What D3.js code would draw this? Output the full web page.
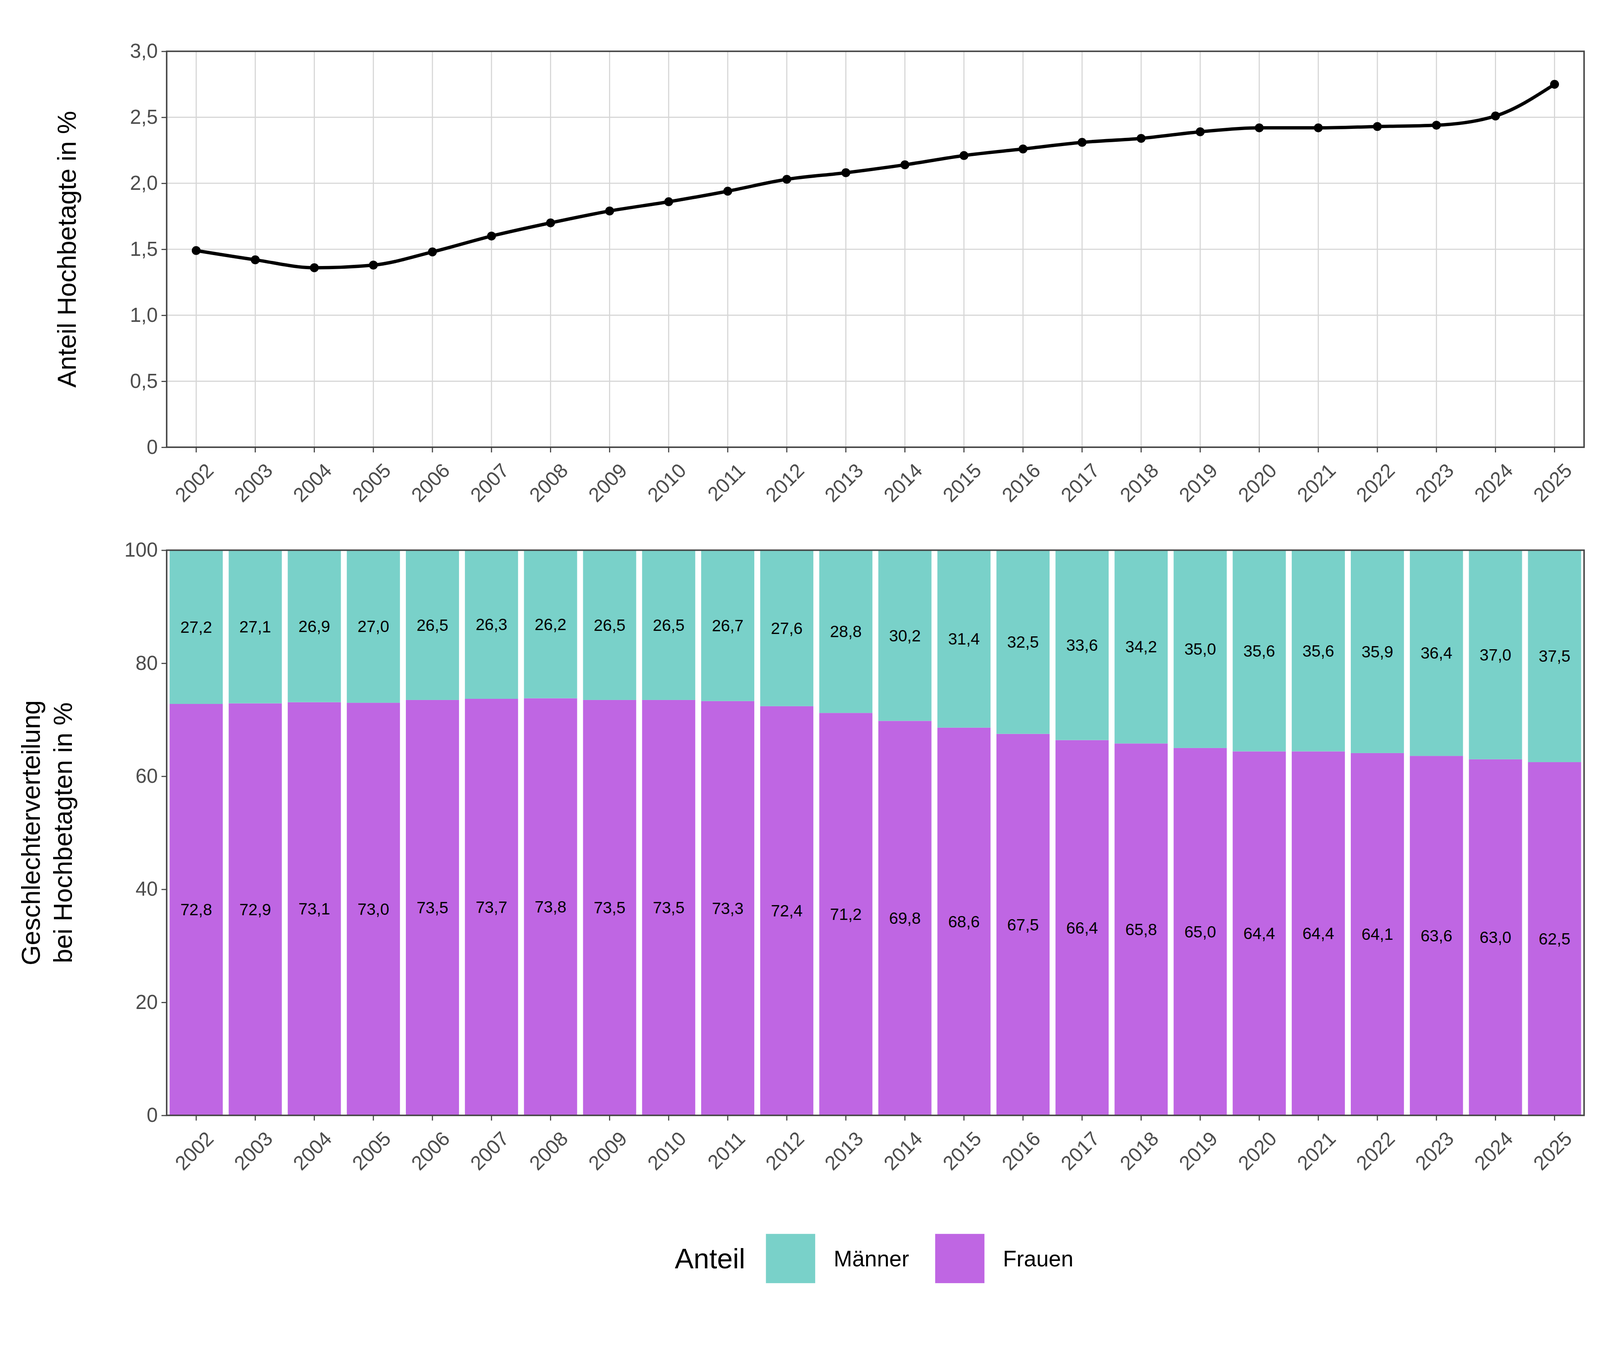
<!DOCTYPE html>
<html><head><meta charset="utf-8">
<script src="https://cdn.jsdelivr.net/npm/d3@7"></script>
<style>html,body{margin:0;padding:0;background:#fff;overflow:hidden}svg{display:block;font-family:"Liberation Sans",Arial,sans-serif}</style>
</head><body><svg id="c" viewBox="0 0 4320 3456" preserveAspectRatio="xMidYMid meet" style="width:100vw;height:100vh"></svg>
<script>
const years=[2002,2003,2004,2005,2006,2007,2008,2009,2010,2011,2012,2013,2014,2015,2016,2017,2018,2019,2020,2021,2022,2023,2024,2025];
const anteil=[1.49,1.42,1.36,1.38,1.48,1.60,1.70,1.79,1.86,1.94,2.03,2.08,2.14,2.21,2.26,2.31,2.34,2.39,2.42,2.42,2.43,2.44,2.51,2.75];
const maenner=[27.2,27.1,26.9,27.0,26.5,26.3,26.2,26.5,26.5,26.7,27.6,28.8,30.2,31.4,32.5,33.6,34.2,35.0,35.6,35.6,35.9,36.4,37.0,37.5];
const frauen=[72.8,72.9,73.1,73.0,73.5,73.7,73.8,73.5,73.5,73.3,72.4,71.2,69.8,68.6,67.5,66.4,65.8,65.0,64.4,64.4,64.1,63.6,63.0,62.5];
const topTicks=[0,0.5,1,1.5,2,2.5,3];
const botTicks=[0,20,40,60,80,100];
const seriesNames=["Männer","Frauen"];
const colors={"Männer":"#79D1C9","Frauen":"#BF66E3"};

const svg=d3.select("#c");
const L=450,R=4277;
const fmt=v=>d3.format(".1f")(v).replace(".",",");
const x=d3.scaleBand().domain(years).range([L,R]).paddingInner(0.1).paddingOuter(0.05);
const xc=d=>x(d)+x.bandwidth()/2;

function xAxis(yb){
  const g=svg.append("g").attr("transform",`translate(0,${yb})`).call(d3.axisBottom(x).tickSize(14).tickPadding(10));
  g.select(".domain").remove();
  g.selectAll(".tick line").attr("stroke","#444").attr("stroke-width",3);
  g.selectAll(".tick text").attr("font-size",54).attr("fill","#4d4d4d").attr("text-anchor","end")
   .attr("dy","0.35em").attr("transform","translate(20,36) rotate(-45)");
}
function yAxis(y,ticks,f){
  const g=svg.append("g").attr("transform",`translate(${L},0)`).call(d3.axisLeft(y).tickValues(ticks).tickFormat(f).tickSize(14).tickPadding(10));
  g.select(".domain").remove();
  g.selectAll(".tick line").attr("stroke","#444").attr("stroke-width",3);
  g.selectAll(".tick text").attr("font-size",54).attr("fill","#4d4d4d");
}

// Top panel
const T0=44,T1=1113;
const y1=d3.scaleLinear().domain([0,3]).range([T1,T0]);
const grid=svg.append("g");
topTicks.forEach(t=>grid.append("line").attr("x1",L).attr("x2",R).attr("y1",y1(t)).attr("y2",y1(t)).attr("stroke","#d6d6d6").attr("stroke-width",3));
years.forEach(yr=>grid.append("line").attr("x1",xc(yr)).attr("x2",xc(yr)).attr("y1",T0).attr("y2",T1).attr("stroke","#d6d6d6").attr("stroke-width",3));
svg.append("path").datum(years.map((yr,i)=>[xc(yr),y1(anteil[i])]))
  .attr("d",d3.line().curve(d3.curveMonotoneX)).attr("fill","none").attr("stroke","#000").attr("stroke-width",9);
svg.selectAll(".pt").data(years).enter().append("circle").attr("cx",d=>xc(d)).attr("cy",(d,i)=>y1(anteil[i])).attr("r",12).attr("fill","#000");
svg.append("rect").attr("x",L).attr("y",T0).attr("width",R-L).attr("height",T1-T0).attr("fill","none").attr("stroke","#444").attr("stroke-width",4);
yAxis(y1,topTicks,d=>d===0?"0":fmt(d));
xAxis(T1);
svg.append("text").attr("transform",`translate(205,${(T0+T1)/2}) rotate(-90)`).attr("text-anchor","middle").attr("font-size",70).text("Anteil Hochbetagte in %");

// Bottom panel
const B0=1391,B1=2917;
const y2=d3.scaleLinear().domain([0,100]).range([B1,B0]);
const stackData=years.map((yr,i)=>({year:yr,"Frauen":frauen[i],"Männer":maenner[i]}));
const stack=d3.stack().keys(["Frauen","Männer"])(stackData);
const lg=svg.append("g");
stack.forEach(s=>{
  lg.selectAll(null).data(s).enter().append("rect")
   .attr("x",d=>x(d.data.year)).attr("width",x.bandwidth())
   .attr("y",d=>y2(d[1])).attr("height",d=>y2(d[0])-y2(d[1])).attr("fill",colors[s.key]);
  lg.selectAll(null).data(s).enter().append("text")
   .attr("x",d=>xc(d.data.year)).attr("y",d=>y2((d[0]+d[1])/2)).attr("dy","0.35em")
   .attr("text-anchor","middle").attr("font-size",44).attr("fill","#000").text(d=>fmt(d.data[s.key]));
});
svg.append("rect").attr("x",L).attr("y",B0).attr("width",R-L).attr("height",B1-B0).attr("fill","none").attr("stroke","#444").attr("stroke-width",4);
yAxis(y2,botTicks,d=>d);
xAxis(B1);
const bt=svg.append("text").attr("transform",`translate(0,${(B0+B1)/2}) rotate(-90)`).attr("text-anchor","middle").attr("font-size",70);
bt.append("tspan").attr("x",0).attr("y",108).text("Geschlechterverteilung");
bt.append("tspan").attr("x",0).attr("y",194).text("bei Hochbetagten in %");

// Legend
const LY=3237,LS=133;
svg.append("text").attr("x",1822).attr("y",LY+LS/2).attr("dy","0.35em").attr("font-size",76).text("Anteil");
const lx=[2068,2525];
seriesNames.forEach((n,i)=>{
  svg.append("rect").attr("x",lx[i]).attr("y",LY).attr("width",LS).attr("height",LS).attr("fill",colors[n]);
  svg.append("text").attr("x",lx[i]+LS+50).attr("y",LY+LS/2).attr("dy","0.35em").attr("font-size",60).text(n);
});
</script></body></html>
